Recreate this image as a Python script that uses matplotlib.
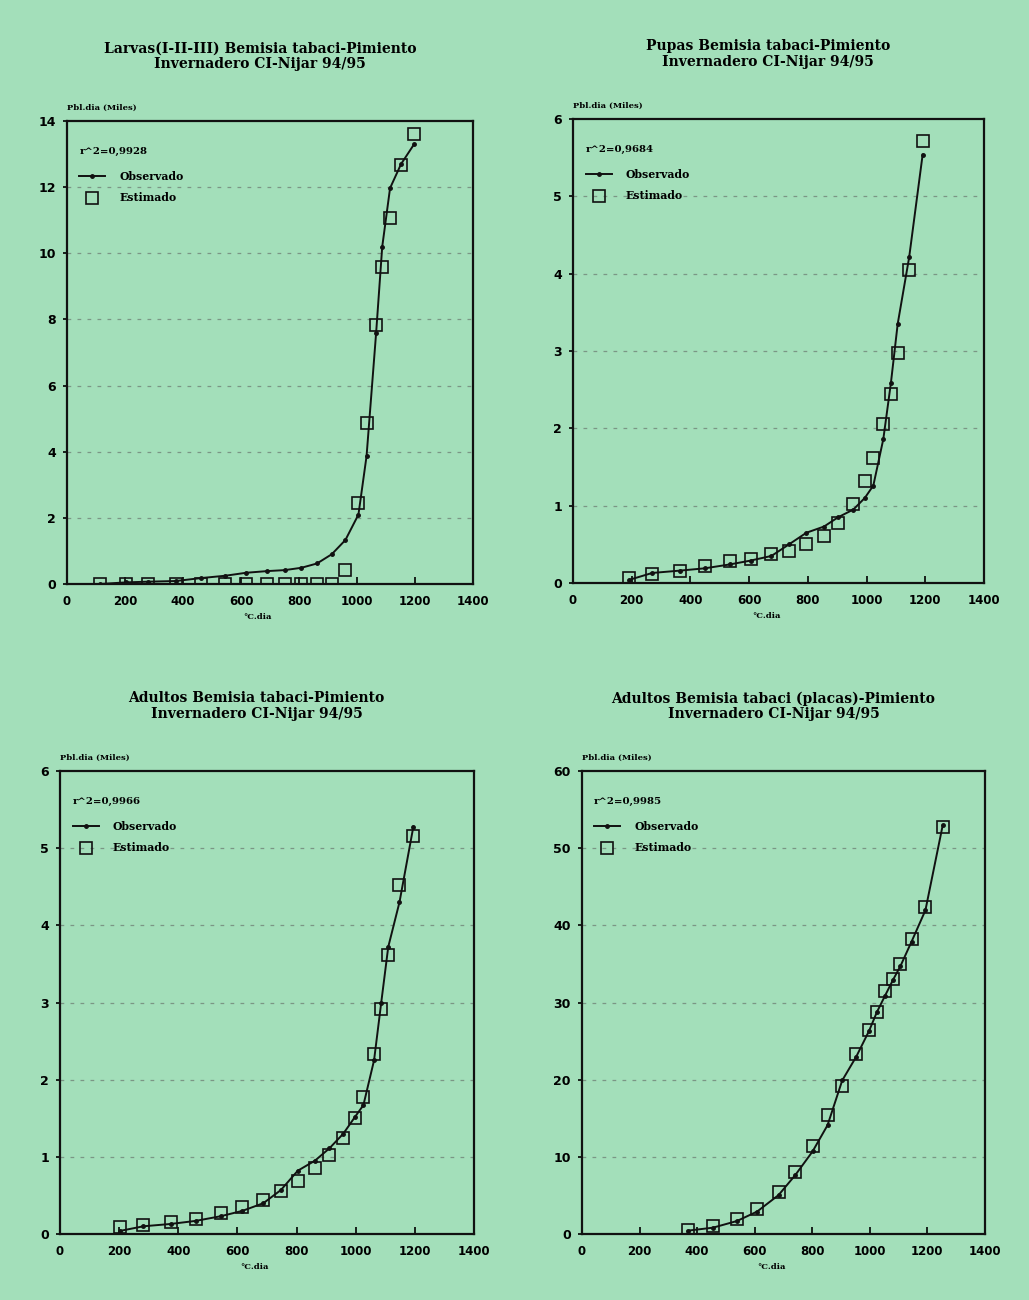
import matplotlib
matplotlib.use("Agg")
import matplotlib.pyplot as plt

BG = "#a3dfba"
FONT = ["DejaVu Serif"]
TICKFONT = ["DejaVu Sans"]

# ---------------- Data ----------------
# Panel 1: Larvas
larvas_x = [113, 205, 279, 375, 463, 546, 618, 690, 751, 808, 862, 913, 960,
            1005, 1033, 1066, 1087, 1114, 1152, 1197]
larvas_obs = [0.0, 0.05, 0.07, 0.09, 0.18, 0.25, 0.34, 0.39, 0.42, 0.49, 0.62,
              0.9, 1.33, 2.1, 3.87, 7.6, 10.2, 11.97, 12.7, 13.3]
larvas_est = [0.0, 0.0, 0.0, 0.0, 0.0, 0.0, 0.0, 0.0, 0.0, 0.0, 0.0, 0.0, 0.43,
              2.46, 4.88, 7.83, 9.6, 11.08, 12.66, 13.6]

# Panel 2: Pupas
pupas_x = [191, 270, 364, 449, 534, 605, 676, 736, 795, 855, 903, 955, 994,
           1023, 1057, 1083, 1106, 1145, 1191]
pupas_obs = [0.04, 0.13, 0.16, 0.19, 0.24, 0.29, 0.35, 0.5, 0.65, 0.73, 0.85,
             0.95, 1.1, 1.26, 1.86, 2.59, 3.35, 4.21, 5.54]
pupas_est = [0.065, 0.11, 0.16, 0.22, 0.28, 0.31, 0.37, 0.41, 0.5, 0.61, 0.77,
             1.02, 1.32, 1.62, 2.06, 2.45, 2.97, 4.05, 5.71]

# Panel 3: Adultos
adultos_x = [203, 282, 374, 459, 543, 617, 688, 747, 804, 862, 911, 958, 998,
             1026, 1062, 1086, 1110, 1148, 1195]
adultos_obs = [0.04, 0.1, 0.13, 0.17, 0.23, 0.3, 0.4, 0.57, 0.82, 0.95, 1.11,
               1.3, 1.52, 1.67, 2.25, 2.99, 3.72, 4.3, 5.28]
adultos_est = [0.086, 0.12, 0.15, 0.19, 0.27, 0.35, 0.44, 0.56, 0.69, 0.86,
               1.03, 1.25, 1.5, 1.77, 2.33, 2.91, 3.61, 4.52, 5.16]

# Panel 4: Adultos (placas)
placas_x = [367, 455, 538, 608, 683, 741, 801, 853, 904, 953, 997, 1025, 1053,
            1080, 1106, 1145, 1193, 1253]
placas_obs = [0.43, 0.82, 1.68, 2.9, 5.05, 7.64, 10.7, 14.1, 19.9, 23.0, 26.3,
              28.8, 30.9, 32.9, 34.7, 37.9, 41.95, 52.95]
placas_est = [0.52, 1.04, 1.94, 3.19, 5.48, 8.07, 11.4, 15.4, 19.2, 23.3, 26.5,
              28.8, 31.5, 33.1, 35.0, 38.2, 42.4, 52.8]

titles = [
    "Larvas(I-II-III) Bemisia tabaci-Pimiento\nInvernadero CI-Nijar 94/95",
    "Pupas Bemisia tabaci-Pimiento\nInvernadero CI-Nijar 94/95",
    "Adultos Bemisia tabaci-Pimiento\nInvernadero CI-Nijar 94/95",
    "Adultos Bemisia tabaci (placas)-Pimiento\nInvernadero CI-Nijar 94/95",
]
r2_labels = ["r^2=0,9928", "r^2=0,9684", "r^2=0,9966", "r^2=0,9985"]
ymax = [14, 6, 6, 60]
ystep = [2, 1, 1, 10]
xticks = [0, 200, 400, 600, 800, 1000, 1200, 1400]
ylabel_txt = "Pbl.dia (Miles)"
xlabel_txt = "°C.dia"
legend_obs = "Observado"
legend_est = "Estimado"

series = [
    (larvas_x, larvas_obs, larvas_est),
    (pupas_x, pupas_obs, pupas_est),
    (adultos_x, adultos_obs, adultos_est),
    (placas_x, placas_obs, placas_est),
]

# axes boxes in pixels: left, right, top, bottom
W, H = 1029, 1300
boxes = [(67, 473, 121, 584), (573, 984, 119, 583),
         (60, 474, 771, 1234), (582, 985, 771, 1234)]

fig = plt.figure(figsize=(W / 100, H / 100), dpi=100, facecolor=BG)

for i, (xs, obs, est) in enumerate(series):
    l, r, t, b = boxes[i]
    h = b - t
    ax = fig.add_axes([l / W, 1 - b / H, (r - l) / W, h / H])
    ax.set_facecolor(BG)
    ax.set_xlim(0, 1400)
    ax.set_ylim(0, ymax[i])
    yt = list(range(0, ymax[i] + 1, ystep[i]))
    ax.set_yticks(yt)
    ax.set_xticks(xticks)
    for y in yt[1:-1]:
        ax.axhline(y, color="#5a5a5a", lw=0.9, ls=(0, (3, 5)), alpha=0.55, zorder=1)
    for s in ax.spines.values():
        s.set_linewidth(1.6)
        s.set_color("#111111")
    ax.tick_params(axis="x", direction="in", length=5, width=1.2, pad=8,
                   labelsize=8.5)
    ax.tick_params(axis="y", direction="out", length=3, width=1.2, pad=5,
                   labelsize=9)
    for lab in ax.get_xticklabels() + ax.get_yticklabels():
        lab.set_fontfamily(TICKFONT)
        lab.set_fontweight("bold")

    ax.plot(xs, obs, color="#111111", lw=1.4, marker="o", ms=2.5, zorder=3,
            label=legend_obs)
    ax.plot(xs, est, ls="none", marker="s", ms=8.5, mfc="none", mec="#111111",
            mew=1.2, zorder=4, label=legend_est)

    # title
    ax.text(0.475, 1 + 65 / h, titles[i], transform=ax.transAxes,
            ha="center", va="center", fontsize=10, fontweight="bold",
            family=FONT, linespacing=1.1)
    # y label (top left)
    ax.text(0.0, 1.0 + 13 / h, ylabel_txt, transform=ax.transAxes,
            ha="left", va="center", fontsize=6, fontweight="bold", family=FONT)
    # x label
    ax.text(0.47, -33 / h, xlabel_txt, transform=ax.transAxes,
            ha="center", va="center", fontsize=6, fontweight="bold", family=FONT)
    # r^2
    ax.text(0.03, 1 - 30 / h, r2_labels[i], transform=ax.transAxes,
            ha="left", va="center", fontsize=7.3, fontweight="bold", family=FONT)

    ax.legend(loc="upper left", bbox_to_anchor=(0.012, 1 - 42 / h),
              frameon=False, prop={"family": FONT, "weight": "bold",
                                   "size": 7.8},
              handlelength=2.4, handletextpad=1.3, labelspacing=1.0,
              borderaxespad=0.3)

fig.savefig("out.png", dpi=100, facecolor=BG)
